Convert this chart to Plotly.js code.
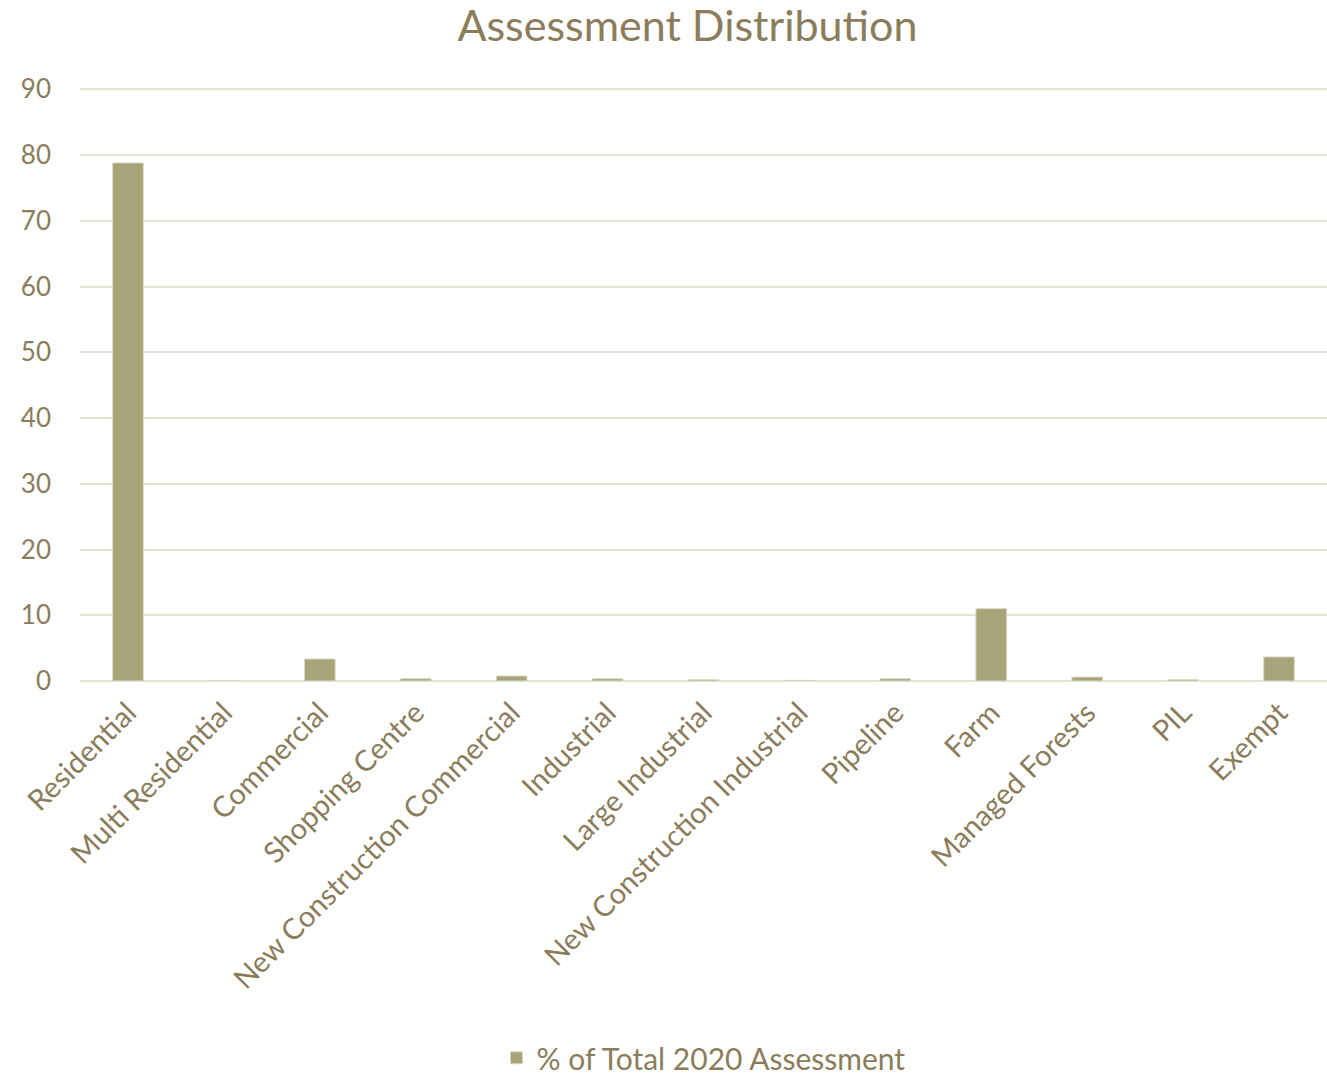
<!DOCTYPE html>
<html>
<head>
<meta charset="utf-8">
<script src="https://cdn.plot.ly/plotly-3.0.1.min.js"></script>
<style>html,body{margin:0;padding:0;background:#fff;}#chart{width:1327px;height:1075px;}</style>
</head>
<body>
<div id="chart"></div>
<script>
const categories = ["Residential","Multi Residential","Commercial","Shopping Centre","New Construction Commercial","Industrial","Large Industrial","New Construction Industrial","Pipeline","Farm","Managed Forests","PIL","Exempt"];
const values = [78.8, 0, 3.35, 0.35, 0.76, 0.35, 0.2, 0.1, 0.35, 11.0, 0.6, 0.2, 3.66];
const seriesName = "% of Total 2020 Assessment";
const yTicks = [0,10,20,30,40,50,60,70,80,90];

const textColor = "#8b7d5c";
const barColor = "#a8a47a";
const gridColor = "#e6e2d8";
const fontFam = "Lato, 'Open Sans', sans-serif";

Plotly.newPlot("chart", [{
  type: "bar",
  x: categories,
  y: values,
  name: seriesName,
  marker: {color: barColor, line: {color: "#ddd9c4", width: 1}},
  showlegend: true
}], {
  width: 1327, height: 1075,
  paper_bgcolor: "#fff", plot_bgcolor: "#fff",
  font: {family: fontFam, color: textColor, size: 24},
  title: {text: "Assessment Distribution", font: {size: 43, color: textColor, family: fontFam}, x: 0.518, xanchor: "center", y: 0.976, yref: "container", yanchor: "middle"},
  margin: {l: 80, r: 0, t: 86, b: 394},
  bargap: 0.68,
  xaxis: {tickangle: -45, tickfont: {size: 29, color: textColor}, showgrid: false, showline: false, ticks: "", ticklabelstandoff: 8},
  yaxis: {range: [0, 90.5], tickvals: yTicks, ticktext: yTicks.map(String), tickfont: {size: 26, color: textColor}, gridcolor: gridColor, gridwidth: 2, zeroline: true, zerolinecolor: gridColor, zerolinewidth: 2, showline: false, ticklabelstandoff: 28},
  legend: {orientation: "h", x: 0.5, xanchor: "center", y: 0.016, yref: "container", yanchor: "middle", font: {size: 30, color: textColor}},
  showlegend: true
}, {displayModeBar: false});
</script>
</body>
</html>
